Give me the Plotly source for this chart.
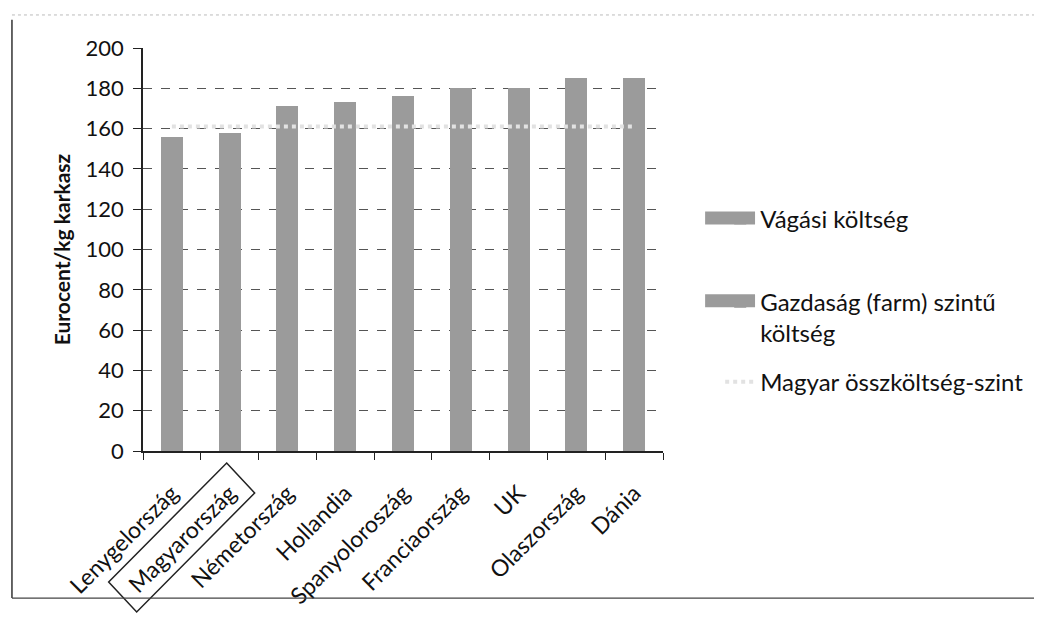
import plotly.graph_objects as go

countries = ["Lenygelország", "Magyarország", "Németország", "Hollandia", "Spanyoloroszág",
             "Franciaország", "UK", "Olaszország", "Dánia"]
farm_cost = [144, 146, 158, 160, 163, 166, 167, 171, 172]
slaughter_cost = [12, 12, 13, 13, 13, 14, 13, 14, 13]
hu_total_level = [161] * len(countries)
y_ticks = [0, 20, 40, 60, 80, 100, 120, 140, 160, 180, 200]
highlight = "Magyarország"

FONT = "Lato, Carlito, 'Open Sans', sans-serif"
bar_color = "#9b9b9b"

fig = go.Figure()
fig.add_trace(go.Bar(
    x=countries, y=farm_cost, name="Gazdaság (farm) szintű<br>költség",
    marker=dict(color=bar_color, line=dict(width=0)), legend="legend2"))
fig.add_trace(go.Bar(
    x=countries, y=slaughter_cost, name="Vágási költség",
    marker=dict(color=bar_color, line=dict(width=0)), legend="legend"))
fig.add_trace(go.Scatter(
    x=countries, y=hu_total_level, mode="lines", name="Magyar összköltség-szint",
    line=dict(color="#e2e2e2", width=4, dash="dot"), legend="legend3"))

leg_common = dict(xanchor="left", font=dict(size=24, color="#111"),
                  bgcolor="rgba(0,0,0,0)")

# page body has an 8px margin: compensate so the plot area lands at x 143-663, y 48-451
fig.update_layout(
    width=1042, height=624,
    barmode="stack", bargap=0.62,
    paper_bgcolor="white", plot_bgcolor="white",
    margin=dict(l=135, r=387, t=40, b=181),
    font=dict(family=FONT, size=20, color="#111"),
    showlegend=True,
    legend=dict(x=1.11, y=0.576, yanchor="middle", **leg_common),
    legend2=dict(x=1.11, y=0.425, yanchor="top", valign="top", **leg_common),
    legend3=dict(x=1.11, y=0.171, yanchor="middle", **leg_common),
    xaxis=dict(type="category", range=[-0.5, len(countries) - 0.5], tickangle=-45,
               tickfont=dict(size=23), ticklabelstandoff=18,
               showline=True, linecolor="#222", linewidth=1.5, ticks="outside",
               tickson="boundaries", ticklen=7, tickcolor="#222",
               showgrid=False, zeroline=False),
    yaxis=dict(range=[0, 200], tickmode="array", tickvals=y_ticks, showline=True,
               linecolor="#222", linewidth=1.5, ticks="outside", ticklen=8, tickcolor="#222",
               ticklabelstandoff=5,
               showgrid=True, gridcolor="#555", griddash="dash", gridwidth=1.2,
               zeroline=False, tickfont=dict(size=22),
               title=dict(text="<b>Eurocent/kg karkasz</b>", font=dict(size=21), standoff=9)),
)

# wide legend swatches (as in the original spreadsheet legend)
for y_mid in (0.578, 0.373):
    fig.add_shape(type="rect", xref="paper", yref="paper", x0=1.081, x1=1.177,
                  y0=y_mid - 0.016, y1=y_mid + 0.016, fillcolor=bar_color, line=dict(width=0),
                  layer="below")

# box around the highlighted tick label (pixel offsets from the category centre on the axis)
hi_idx = countries.index(highlight)
fig.add_shape(type="path", xref="paper", yref="paper", xsizemode="pixel", ysizemode="pixel",
              xanchor=(hi_idx + 0.5) / len(countries), yanchor=0,
              path="M -3 -12 L 25 -42 L -93 -161 L -121 -131 Z",
              line=dict(color="#222", width=1.5))

# scanned page frame
fig.add_shape(type="line", xref="paper", yref="paper", x0=-0.252, x1=-0.252, y0=1.07, y1=-0.365,
              line=dict(color="#333", width=1.5))
fig.add_shape(type="line", xref="paper", yref="paper", x0=-0.252, x1=1.725, y0=-0.365, y1=-0.365,
              line=dict(color="#444", width=1.2))
fig.add_shape(type="line", xref="paper", yref="paper", x0=-0.252, x1=1.725, y0=1.082, y1=1.082,
              line=dict(color="#bbb", width=1, dash="dot"))

fig.write_html("out.html")
